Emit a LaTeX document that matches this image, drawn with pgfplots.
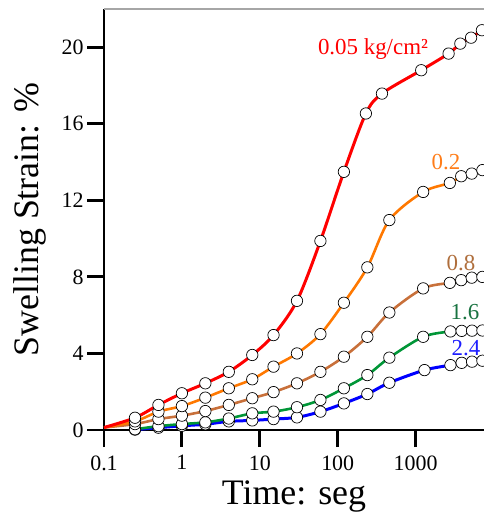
\documentclass[border=0pt]{standalone}
\usepackage{fontspec}
\setmainfont{Liberation Serif}
\usepackage{pgfplots}
\pgfplotsset{compat=1.18}

\definecolor{cRed}{RGB}{255,0,0}
\definecolor{cOrange}{RGB}{255,120,0}
\definecolor{cBrown}{RGB}{200,112,58}
\definecolor{cGreen}{RGB}{0,150,55}
\definecolor{cBlue}{RGB}{0,0,255}
\definecolor{tOrange}{RGB}{255,125,25}
\definecolor{tBrown}{RGB}{175,110,60}
\definecolor{tGreen}{RGB}{25,115,65}
\definecolor{tBlue}{RGB}{30,30,255}

% swelling strain (%) against time, one table per vertical stress
\pgfplotstableread{
t      s
0.1    0.13
0.25   0.64
0.5    1.31
1      1.92
2      2.44
4      3.04
8      3.92
15     4.96
30     6.75
60     9.88
120    13.49
230    16.54
370    17.58
1180   18.80
2650   19.67
3750   20.19
5150   20.50
7100   20.89
}\redtab
\pgfplotstableread{
t      s
0.1    0.13
0.25   0.45
0.5    0.96
1      1.25
2      1.69
4      2.18
8      2.65
15     3.31
30     4.00
60     5.01
120    6.65
240    8.50
460    10.97
1250   12.44
2750   12.91
3850   13.26
5250   13.40
7200   13.58
}\orangetab
\pgfplotstableread{
t      s
0.1    0.13
0.25   0.31
0.5    0.57
1      0.75
2      0.99
4      1.31
8      1.66
15     1.98
30     2.44
60     3.04
120    3.83
240    4.87
460    6.14
1250   7.40
2750   7.69
3850   7.83
5250   7.96
7200   8.00
}\browntab
\pgfplotstableread{
t      s
0.25   0.04
0.5    0.20
1      0.31
2      0.40
4      0.60
8      0.87
15     0.96
30     1.19
60     1.57
120    2.18
240    2.87
460    3.78
1250   4.87
2800   5.15
3900   5.18
5300   5.19
7200   5.20
}\greentab
\pgfplotstableread{
t      s
0.25   0.02
0.5    0.12
1      0.22
2      0.30
4      0.45
8      0.50
15     0.57
30     0.66
60     0.96
120    1.39
240    1.88
460    2.47
1300   3.13
2800   3.39
3900   3.51
5300   3.57
7200   3.62
}\bluetab

\begin{document}
\begin{tikzpicture}[x=1bp,y=1bp]
\useasboundingbox (-104,-90) rectangle (380,430);
\begin{axis}[
  scale only axis,
  width=380bp, height=421bp,
  at={(0,0)}, anchor=south west,
  xmode=log, log basis x=10,
  xmin=0.1, xmax=7550, ymin=0, ymax=22,
  xtick={0.1,1,10,100,1000},
  xticklabels={0.1,1,10,100,1000},
  xminorticks=false,
  ytick={0,4,8,12,16,20},
  axis x line*=bottom, axis y line*=left,
  axis line style={line width=3pt, -},
  tick align=outside,
  major tick length=17bp,
  every tick/.style={black, line width=3pt},
  /pgf/number format/assume math mode=true,
  ticklabel style={font=\fontsize{22}{25}\selectfont},
  xticklabel style={yshift=-5bp},
  xlabel={Time: seg},
  ylabel={Swelling Strain: \%},
  label style={font=\fontsize{36}{40}\selectfont},
  xlabel style={at={(axis description cs:0.5,-0.157)}, anchor=center},
  ylabel style={at={(axis description cs:-0.195,0.5)}, anchor=center},
  mark size=5.7bp,
  every axis plot/.append style={smooth, tension=0.5,
    mark=*, mark options={fill=white, draw=black, line width=0.7pt, solid}},
]
\addplot[cBlue, line width=3pt] table[x=t,y=s] {\bluetab};
\addplot[cGreen, line width=2.6pt] table[x=t,y=s] {\greentab};
% the first reading (t = 0.1) carries no marker
\addplot[cBrown, line width=2.6pt, mark indices={2,...,18}] table[x=t,y=s] {\browntab};
\addplot[cOrange, line width=2.6pt, mark indices={2,...,18}] table[x=t,y=s] {\orangetab};
\addplot[cRed, line width=3pt, mark indices={2,...,18}] table[x=t,y=s] {\redtab};
\draw[gray!70, line width=1.2pt] (rel axis cs:0,1) -- (rel axis cs:1,1);
\end{axis}
% stress labels, kg/cm²
\node[text=cRed, font=\fontsize{23}{26}\selectfont] at (269,381) {0.05 kg/cm²};
\node[text=tOrange, font=\fontsize{23}{26}\selectfont] at (342,268) {0.2};
\node[text=tBrown, font=\fontsize{23}{26}\selectfont] at (357,167) {0.8};
\node[text=tGreen, font=\fontsize{23}{26}\selectfont] at (361,118) {1.6};
\node[text=tBlue, font=\fontsize{23}{26}\selectfont] at (362,82) {2.4};
\end{tikzpicture}
\end{document}
